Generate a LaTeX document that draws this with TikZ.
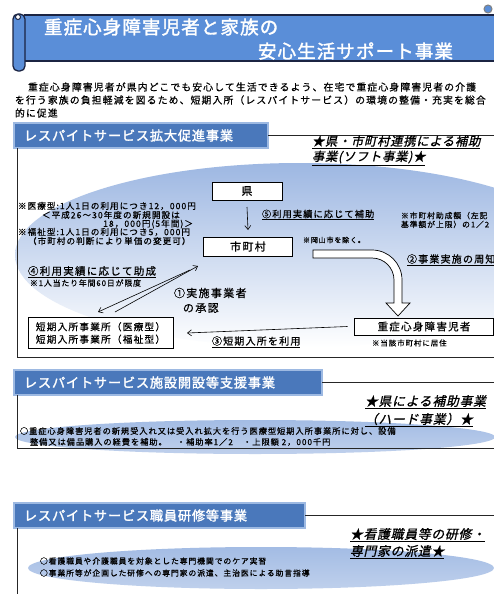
\documentclass[tikz,border=0pt]{standalone}
\usepackage{fontspec}
\setmainfont{Noto Sans CJK JP}
\newfontfamily\jp[FakeBold=0.6,LetterSpace=12]{Noto Sans CJK JP}
\newfontfamily\jpb[FakeBold=1.8,LetterSpace=6]{Noto Sans CJK JP}
\newfontfamily\jpi[FakeBold=1.0,FakeSlant=0.22,LetterSpace=6]{Noto Sans CJK JP}
\usetikzlibrary{arrows.meta,shadows}
\definecolor{titleblue}{HTML}{5A8ED8}
\definecolor{navy}{HTML}{1B2442}
\definecolor{hdrblue}{HTML}{4A78BB}
\definecolor{hdredge}{HTML}{9DB9E2}
\definecolor{ellblue}{HTML}{9DB7E2}
\definecolor{ellmid}{HTML}{CBD9F0}
\definecolor{lensA}{HTML}{A3BCE4}
\definecolor{lensB}{HTML}{E6EDF8}
\definecolor{lensC}{HTML}{BFD0EC}
\newcommand{\fs}[1]{\fontsize{#1}{#1}\selectfont}
\begin{document}
\begin{tikzpicture}[x=1pt,y=-1pt,
  every node/.style={inner sep=0pt,outer sep=0pt},
  lbl/.style={anchor=west},
  box/.style={draw=black,line width=0.7pt,fill=white},
  hdr/.style={anchor=north west,fill=hdrblue,draw=hdredge,line width=1.6pt,
    drop shadow={shadow xshift=1.2pt,shadow yshift=-1.2pt,opacity=0.35}},
  hdrtxt/.style={anchor=west,font=\jpb\fs{13.2},text=white},
  startxt/.style={anchor=west,font=\jpi\fs{12.8}},
  arr/.style={line width=0.6pt,-{Straight Barb[length=4pt,width=6pt]}},
  frame/.style={line width=0.8pt,draw=black!85}]
\useasboundingbox (0,0) rectangle (494,594);
\fill[white] (0,0) rectangle (494,594);

% ---------- title scroll
\fill[titleblue] (24,15) rectangle (500,61);
\draw[navy,line width=1.2pt] (24,15) -- (500,15);
\draw[navy,line width=1.2pt] (24,61) -- (500,61);
\draw[gray,line width=1pt,fill=titleblue] (488,9) circle[radius=4pt];
\path[fill=titleblue,draw=navy,line width=1.3pt,rounded corners=5pt] (13,14) rectangle (25,71);
\draw[navy,line width=1pt,fill=white] (18,17) circle[radius=2.5pt];
\node[anchor=west,font=\jpb\fs{18.5},text=white] (t1) at (44,27) {重症心身障害児者と家族の};
\node[anchor=west,font=\jpb\fs{18.5},text=white] (t2) at (258,51) {安心生活サポート事業};

% ---------- intro
\node[lbl,font=\jp\fs{9.8}] (i1) at (28,87) {重症心身障害児者が県内どこでも安心して生活できるよう、在宅で重症心身障害児者の介護};
\node[lbl,font=\jp\fs{9.8}] (i2) at (15,100) {を行う家族の負担軽減を図るため、短期入所（レスパイトサービス）の環境の整備・充実を総合};
\node[lbl,font=\jp\fs{9.8}] (i3) at (15,113) {的に促進};

% ---------- section 1
\shade[top color=ellblue,middle color=ellmid,bottom color=white] (300,255) ellipse[x radius=285pt,y radius=92pt];
\node[hdr,minimum width=254,minimum height=25] (h1) at (14,123) {};
\node[hdrtxt] (h1t) at (24,135.5) {レスパイトサービス拡大促進事業};
\draw[frame] (h1.east) -- (494,135.5);
\draw[frame] ([xshift=3pt]h1.south west) -- (17,357) -- (494,357);
\node[startxt,font=\jpi\fs{12.3}] (s1a) at (312,142) {\underline{★県・市町村連携による補助}};
\node[startxt,font=\jpi\fs{12.3}] (s1b) at (312,158) {\underline{事業(ソフト事業)★}};

\node[box,minimum width=70,minimum height=18,font=\jp\fs{11}] (ken) at (247,191) {県};
\node[box,minimum width=89,minimum height=19,font=\jp\fs{11}] (shi) at (248,246.5) {市町村};
\node[box,minimum width=145,minimum height=31,align=left,font=\jp\fontsize{9.7}{12.5}\selectfont] (tan) at (100.5,333) {短期入所事業所（医療型）\\短期入所事業所（福祉型）};
\node[box,minimum width=139,minimum height=17,font=\jp\fs{10.5}] (jus) at (424,326.5) {重症心身障害児者};

\draw[arr] ([yshift=-7pt]ken.south) -- ([yshift=7pt]shi.north);
\draw[arr] ([xshift=-7pt]jus.west) -- ([xshift=14pt]tan.east);
\coordinate (dA1) at (190,270);
\coordinate (dA2) at (98,312);
\coordinate (dB1) at (115,312);
\coordinate (dB2) at (198,266);
\draw[arr] (dA1) -- (dA2);
\draw[arr] (dB1) -- (dB2);

% hollow bent arrow
\draw[line width=0.7pt,fill=white] (313,250) -- (372,250) arc[start angle=90,end angle=0,radius=30pt]
  -- (402,303) -- (410,303) -- (398,316) -- (386,303) -- (394,303) -- (394,280)
  arc[start angle=0,end angle=90,radius=22pt] -- (313,258) -- cycle;

\node[lbl,font=\jp\fs{9.2}] (n5) at (262,215) {\underline{⑤利用実績に応じて補助}};
\node[lbl,align=left,font=\jp\fontsize{7.8}{8.8}\selectfont] (n5b) at (401,220) {※市町村助成額（左記\\基準額が上限）の1／2};
\node[lbl,font=\jp\fs{7}] (oka) at (303,240) {※岡山市を除く。};
\node[lbl,font=\jp\fs{10}] (n2) at (407,260) {\underline{②事業実施の周知}};
\node[lbl,font=\jp\fs{10.5}] (n4) at (28,272) {\underline{④利用実績に応じて助成}};
\node[lbl,font=\jp\fs{7.8}] (n4b) at (30,283) {※1人当たり年間60日が限度};
\node[lbl,font=\jp\fs{11}] (n1a) at (174,293) {①実施事業者};
\node[lbl,font=\jp\fs{11}] (n1b) at (183,308) {の承認};
\node[lbl,font=\jp\fs{10}] (n3) at (212,342) {\underline{③短期入所を利用}};
\node[lbl,font=\jp\fs{7.5}] (kyo) at (372,343) {※当該市町村に居住};

\node[lbl,font=\jp\fs{8.6}] (m1) at (18,206) {※医療型:1人1日の利用につき12，000円};
\node[lbl,font=\jp\fs{8.6}] (m2) at (42,215) {＜平成26～30年度の新規開設は};
\node[anchor=east,font=\jp\fs{8.6}] (m3) at (193,224) {18，000円(5年間)＞};
\node[lbl,font=\jp\fs{8.6}] (m4) at (18,232) {※福祉型:1人1日の利用につき5，000円};
\node[lbl,font=\jp\fs{8.6}] (m5) at (28,241) {（市町村の判断により単価の変更可）};

% ---------- section 2
\shade[top color=lensA,middle color=lensB,bottom color=lensC] (255,437) ellipse[x radius=240pt,y radius=17pt];
\node[hdr,minimum width=308,minimum height=25] (h2) at (14,370) {};
\node[hdrtxt] (h2t) at (24,382.5) {レスパイトサービス施設開設等支援事業};
\draw[frame] (h2.east) -- (494,382.5);
\draw[frame] ([xshift=3pt]h2.south west) -- (17,448) -- (494,448);
\node[startxt] (s2a) at (365,402) {\underline{★県による補助事業}};
\node[startxt] (s2b) at (365,420) {\underline{（ハード事業）★}};
\node[lbl,font=\jp\fs{8.2}] (e2a) at (20,431) {○重症心身障害児者の新規受入れ又は受入れ拡大を行う医療型短期入所事業所に対し、設備};
\node[lbl,font=\jp\fs{8.2}] (e2b) at (30,442) {整備又は備品購入の経費を補助。　・補助率1／2　・上限額 2，000千円};

% ---------- section 3
\shade[top color=lensA,middle color=lensB,bottom color=lensC] (261,568) ellipse[x radius=233pt,y radius=21pt];
\node[hdr,minimum width=291,minimum height=25] (h3) at (14,503) {};
\node[hdrtxt] (h3t) at (24,515.5) {レスパイトサービス職員研修等事業};
\draw[frame] (h3.east) -- (494,515.5);
\draw[frame] ([xshift=3pt]h3.south west) -- (17,594);
\node[startxt] (s3a) at (350,535) {\underline{★看護職員等の研修・}};
\node[startxt] (s3b) at (350,552) {\underline{専門家の派遣★}};
\node[lbl,font=\jp\fs{7.8}] (e3a) at (40,561) {○看護職員や介護職員を対象とした専門機関でのケア実習};
\node[lbl,font=\jp\fs{7.8}] (e3b) at (40,573) {○事業所等が企画した研修への専門家の派遣、主治医による助言指導};
\end{tikzpicture}
\end{document}
